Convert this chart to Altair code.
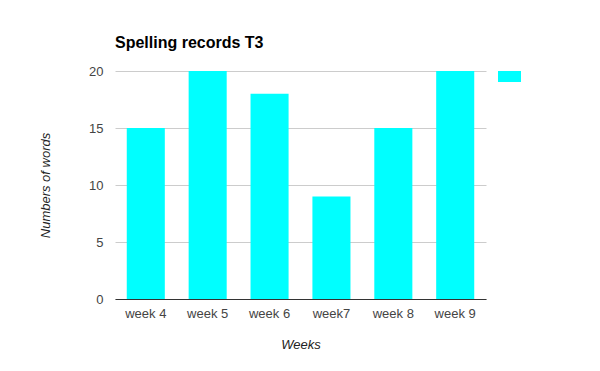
import altair as alt
import pandas as pd

weeks = ["week 4", "week 5", "week 6", "week7", "week 8", "week 9"]
words = [15, 20, 18, 9, 15, 20]
series = [" "] * len(weeks)

df = pd.DataFrame({"week": weeks, "words": words, "series": series})

chart = alt.Chart(df).mark_bar(color="#00FFFF").encode(
    x=alt.X("week:N", sort=weeks,
            scale=alt.Scale(paddingInner=0.385, paddingOuter=0.19),
            axis=alt.Axis(title="Weeks", labelAngle=0, ticks=False,
                          domainColor="#333333", labelColor="#444444",
                          labelFont="Liberation Sans", labelFontSize=13,
                          labelPadding=8, titleFont="Liberation Sans",
                          titleFontSize=13, titleFontStyle="italic",
                          titleFontWeight="normal", titleColor="#222222",
                          titleX=185.5, titleY=45, titleBaseline="middle",
                          titleAlign="center")),
    y=alt.Y("words:Q", scale=alt.Scale(domain=[0, 20]),
            axis=alt.Axis(title="Numbers of words", values=[0, 5, 10, 15, 20],
                          ticks=False, domain=False, gridColor="#cccccc",
                          labelColor="#444444", labelFont="Liberation Sans",
                          labelFontSize=13, labelPadding=12,
                          titleFont="Liberation Sans", titleFontSize=13,
                          titleFontStyle="italic", titleFontWeight="normal",
                          titleColor="#222222", titleAngle=-90,
                          titleX=-70, titleY=114, titleBaseline="middle",
                          titleAlign="center")),
    color=alt.Color("series:N", scale=alt.Scale(range=["#00FFFF"]),
                    legend=alt.Legend(title=None, orient="none", legendX=383,
                                      legendY=-6, symbolType="M-1,-0.48H1V0.48H-1Z",
                                      symbolSize=529, symbolStrokeWidth=0,
                                      symbolOpacity=1, labelExpr="''",
                                      padding=0)),
).properties(
    width=371,
    height=228,
    title=alt.TitleParams("Spelling records T3", anchor="start", frame="group",
                          font="Liberation Sans", fontSize=16, fontWeight="bold",
                          color="#000000", offset=14),
    padding={"left": 107, "top": 63, "right": 106, "bottom": 64},
    autosize=alt.AutoSizeParams(type="none"),
).configure_view(stroke=None)

chart.save("out.html", embed_options={"renderer": "svg", "actions": False})
